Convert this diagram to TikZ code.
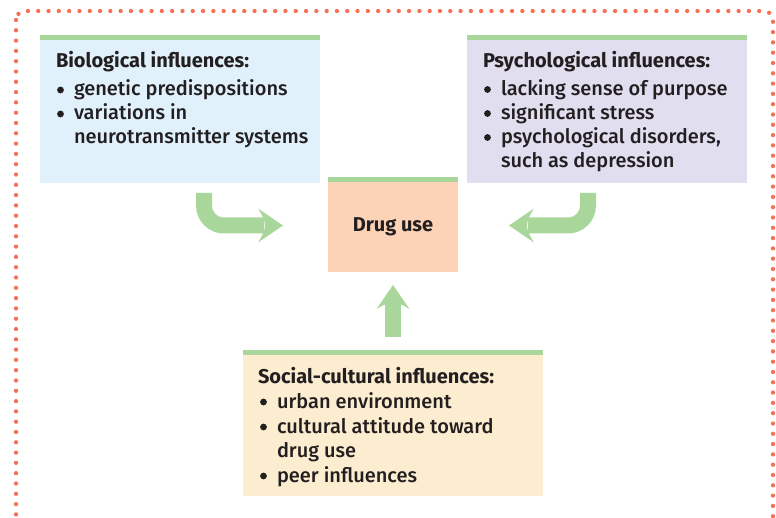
\documentclass[tikz,border=0pt]{standalone}
\usepackage{fontspec}
\IfFontExistsTF{Fira Sans Medium}{%
  \setmainfont{Fira Sans Medium}[BoldFont={Fira Sans Bold}]}{%
  \setmainfont{Fira Sans}}
\usetikzlibrary{calc}
\definecolor{biofill}{RGB}{224,241,251}
\definecolor{psyfill}{RGB}{224,222,239}
\definecolor{drugfill}{RGB}{253,211,184}
\definecolor{socfill}{RGB}{253,237,208}
\definecolor{bargreen}{RGB}{169,214,154}
\definecolor{dotred}{RGB}{248,112,84}
\definecolor{ink}{RGB}{35,31,32}
\tikzset{
  box/.style={anchor=north west, inner sep=0pt, outer sep=0pt, draw=none},
  txt/.style={anchor=base west, inner sep=0pt, outer sep=0pt, text=ink, font=\fontsize{20}{24}\selectfont},
  hdr/.style={txt, font=\fontsize{20}{24}\selectfont\bfseries},
  bar/.style={fill=bargreen},
  dotbullet/.style={fill=ink},
  bigarrow/.style={draw=bargreen, line width=16pt, rounded corners=20pt},
  arrowhead/.style={fill=bargreen},
  frame/.style={draw=dotred, line width=4.3pt, line cap=round, dash pattern=on 0pt off 10.3pt, rounded corners=9pt}
}
\begin{document}
\begin{tikzpicture}[x=1pt,y=-1pt]
\useasboundingbox (0,0) rectangle (776,518);
\clip (0,0) rectangle (776,518);
% dotted frame
\draw[frame] (16,11) rectangle (773,527);

% boxes
\node[box, fill=biofill, minimum width=280pt, minimum height=148pt] (bio) at (40,35) {};
\node[box, fill=psyfill, minimum width=280pt, minimum height=148pt] (psy) at (467,35) {};
\node[box, fill=drugfill, minimum width=130pt, minimum height=95pt] (drug) at (328,177) {};
\node[box, fill=socfill, minimum width=300pt, minimum height=146pt] (soc) at (243,350) {};
\foreach \b in {bio,psy,drug,soc}{
  \fill[bar] (\b.north west) rectangle ($(\b.north east)+(0,5.5)$);
}

% texts: biological
\node[hdr] at (56,68) {Biological influences:};
\fill[dotbullet] (60.5,90) circle (3.4);
\node[txt] at (74,96) {genetic predispositions};
\fill[dotbullet] (60.5,114) circle (3.4);
\node[txt] at (74,120) {variations in};
\node[txt] at (74,144) {neurotransmitter systems};

% psychological
\node[hdr] at (483,68) {Psychological influences:};
\fill[dotbullet] (487.5,89.5) circle (3.4);
\node[txt] at (501,95.5) {lacking sense of purpose};
\fill[dotbullet] (487.5,113.5) circle (3.4);
\node[txt] at (501,119.5) {significant stress};
\fill[dotbullet] (487.5,137.5) circle (3.4);
\node[txt] at (501,143.5) {psychological disorders,};
\node[txt] at (501,167.5) {such as depression};

% drug use
\node[hdr, anchor=base] at (393,232) {Drug use};

% social
\node[hdr] at (258,383) {Social-cultural influences:};
\fill[dotbullet] (263.5,402) circle (3.4);
\node[txt] at (277,408) {urban environment};
\fill[dotbullet] (263.5,427) circle (3.4);
\node[txt] at (277,433) {cultural attitude toward};
\node[txt] at (277,457.5) {drug use};
\fill[dotbullet] (263.5,476) circle (3.4);
\node[txt] at (277,482) {peer influences};

% arrows
\coordinate (la0) at (204,193);
\coordinate (la1) at (204,225.5);
\coordinate (la2) at (264,225.5);
\draw[bigarrow] (la0) -- (la1) -- (la2);
\fill[arrowhead] (258,208.5) -- (283,225.5) -- (258,242.5)
  .. controls (262,236) and (265,231) .. (265,225.5)
  .. controls (265,220) and (262,215) .. cycle;

\coordinate (ra0) at (588,193);
\coordinate (ra1) at (588,225.5);
\coordinate (ra2) at (528,225.5);
\draw[bigarrow] (ra0) -- (ra1) -- (ra2);
\fill[arrowhead] (534,208.5) -- (509,225.5) -- (534,242.5)
  .. controls (530,236) and (527,231) .. (527,225.5)
  .. controls (527,220) and (530,215) .. cycle;

\coordinate (ua0) at (393,337);
\coordinate (ua1) at (393,302);
\draw[bigarrow] (ua0) -- (ua1);
\fill[arrowhead] (376.5,309) -- (393,285) -- (409.5,309)
  .. controls (403,305) and (398,302.5) .. (393,302.5)
  .. controls (388,302.5) and (383,305) .. cycle;
\end{tikzpicture}
\end{document}
